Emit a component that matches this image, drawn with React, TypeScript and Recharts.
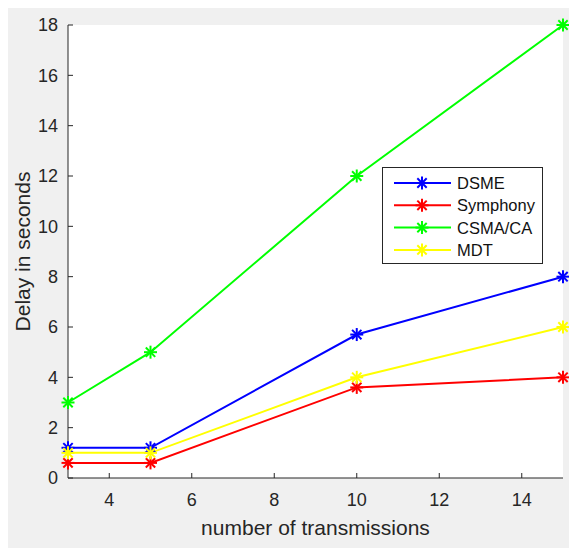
import { LineChart, Line, XAxis, YAxis, CartesianGrid, Legend } from 'recharts'

// number of transmissions
const transmissions = [3, 5, 10, 15]
// delay in seconds per protocol
const dsme = [1.2, 1.2, 5.7, 8]
const symphony = [0.6, 0.6, 3.6, 4]
const csma = [3, 5, 12, 18]
const mdt = [1, 1, 4, 6]

const xTicks = [4, 6, 8, 10, 12, 14]
const yTicks = [0, 2, 4, 6, 8, 10, 12, 14, 16, 18]

const seriesList = [
  { key: 'dsme', name: 'DSME', color: '#0000ff', values: dsme },
  { key: 'symphony', name: 'Symphony', color: '#ff0000', values: symphony },
  { key: 'csma', name: 'CSMA/CA', color: '#00ff00', values: csma },
  { key: 'mdt', name: 'MDT', color: '#ffff00', values: mdt },
]

const data = transmissions.map((t, i) => {
  const row: Record<string, number> = { x: t }
  seriesList.forEach((s) => {
    row[s.key] = s.values[i]
  })
  return row
})

const FONT = '"Liberation Sans", Arial, Helvetica, sans-serif'
const AXIS = '#262626'

function Asterisk({ cx, cy, color, r = 6.5 }: { cx: number; cy: number; color: string; r?: number }) {
  const d = r * 0.72
  return (
    <g stroke={color} strokeWidth={2}>
      <line x1={cx - r} y1={cy} x2={cx + r} y2={cy} />
      <line x1={cx} y1={cy - r} x2={cx} y2={cy + r} />
      <line x1={cx - d} y1={cy - d} x2={cx + d} y2={cy + d} />
      <line x1={cx - d} y1={cy + d} x2={cx + d} y2={cy - d} />
    </g>
  )
}

const makeDot = (color: string) => (props: { cx?: number; cy?: number; index?: number }) => {
  if (props.cx == null || props.cy == null) return <g key={`d-${props.index}`} />
  return (
    <g key={`d-${color}-${props.index}`}>
      <Asterisk cx={props.cx} cy={props.cy} color={color} />
    </g>
  )
}

const MatlabLegend = () => (
  <div style={{ width: 161, height: 97, boxSizing: 'border-box', border: `1px solid ${AXIS}`, background: '#fff' }}>
    <svg width={159} height={95}>
      {seriesList.map((s, i) => {
        const y = 15 + i * 22.3
        return (
          <g key={s.key}>
            <line x1={11} y1={y} x2={68} y2={y} stroke={s.color} strokeWidth={2} />
            <Asterisk cx={39} cy={y} color={s.color} />
            <text x={74} y={y} dy="0.36em" fontFamily={FONT} fontSize={16.5} fill="#111">
              {s.name}
            </text>
          </g>
        )
      })}
    </svg>
  </div>
)

export default function App() {
  return (
    <div style={{ width: 569, height: 540, background: '#f0f0f0' }}>
      <LineChart width={569} height={540} data={data} margin={{ top: 17, right: 14, left: 0, bottom: 0 }}>
        <CartesianGrid fill="#ffffff" horizontal={false} vertical={false} />
        <XAxis
          dataKey="x"
          type="number"
          domain={[3, 15]}
          ticks={xTicks}
          height={70}
          stroke={AXIS}
          tickSize={-5}
          tickMargin={20}
          tick={{ fill: AXIS, fontSize: 18, fontFamily: FONT }}
          label={{
            value: 'number of transmissions',
            position: 'insideBottom',
            offset: 13,
            fill: AXIS,
            fontSize: 21,
            fontFamily: FONT,
          }}
        />
        <XAxis
          xAxisId="top"
          orientation="top"
          dataKey="x"
          type="number"
          domain={[3, 15]}
          ticks={xTicks}
          height={0}
          stroke={AXIS}
          tickSize={-5}
          tickFormatter={() => ''}
        />
        <YAxis
          type="number"
          domain={[0, 18]}
          ticks={yTicks}
          width={60}
          stroke={AXIS}
          tickSize={-5}
          tickMargin={15}
          tick={{ fill: AXIS, fontSize: 18, fontFamily: FONT }}
          label={{
            value: 'Delay in seconds',
            angle: -90,
            position: 'insideLeft',
            offset: 15,
            style: { textAnchor: 'middle' },
            fill: AXIS,
            fontSize: 21,
            fontFamily: FONT,
          }}
        />
        <YAxis
          yAxisId="right"
          orientation="right"
          type="number"
          domain={[0, 18]}
          ticks={yTicks}
          width={0}
          stroke={AXIS}
          tickSize={-5}
          tickFormatter={() => ''}
        />
        <Legend
          layout="horizontal"
          verticalAlign="middle"
          align="center"
          content={<MatlabLegend />}
          wrapperStyle={{ position: 'absolute', left: 374, top: 159, width: 161, height: 97 }}
        />
        {seriesList.map((s) => (
          <Line
            key={s.key}
            dataKey={s.key}
            name={s.name}
            type="linear"
            stroke={s.color}
            strokeWidth={2}
            dot={makeDot(s.color)}
            activeDot={false}
            isAnimationActive={false}
          />
        ))}
      </LineChart>
    </div>
  )
}
